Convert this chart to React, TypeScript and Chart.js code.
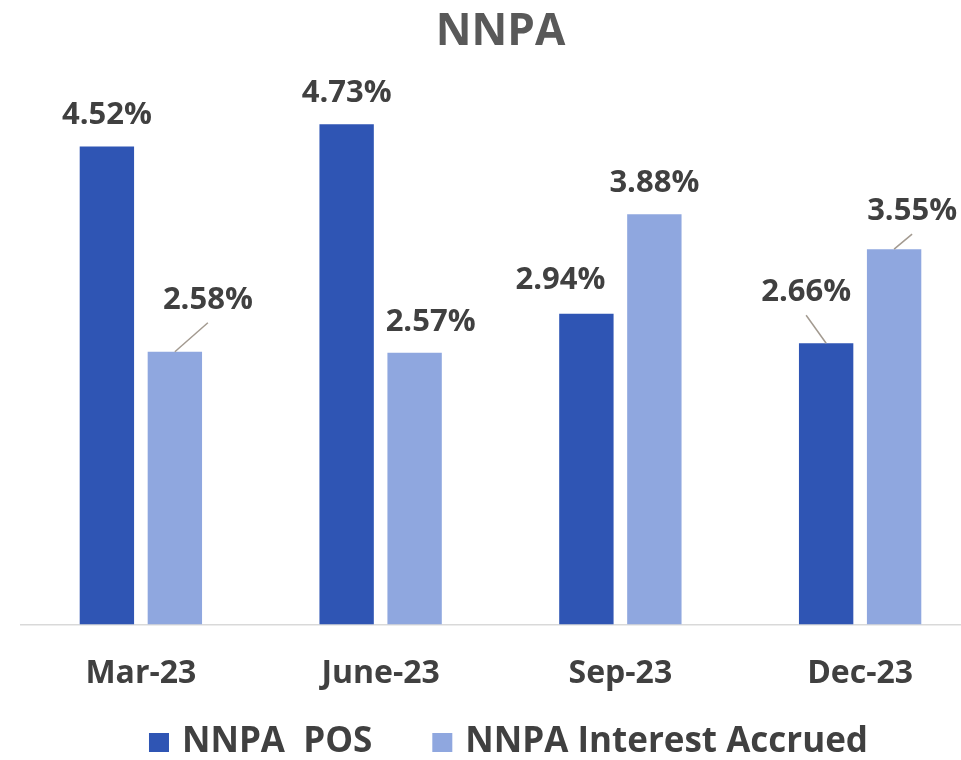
import React, { useEffect, useRef } from "react";
import { Chart, registerables } from "chart.js";

Chart.register(...registerables);

const TITLE = "NNPA";
const CATEGORIES = ["Mar-23", "June-23", "Sep-23", "Dec-23"];
const SERIES_NAMES = ["NNPA  POS", "NNPA Interest Accrued"];
const NNPA_POS = [4.52, 4.73, 2.94, 2.66];
const NNPA_INTEREST = [2.58, 2.57, 3.88, 3.55];

const COLORS = ["#2F55B4", "#8FA7DF"];
const FONT = "'Open Sans', 'Noto Sans', sans-serif";
const TEXT_DARK = "#404040";

// label nudges (pixels) per series / category, and whether a leader line is drawn
const LABEL_SHIFT: number[][][] = [
  [[0, 0], [0, 0], [-26, -2], [-20, -20]],
  [[33, -21], [16, 0], [0, 0], [18, -7]],
];
const LEADER: boolean[][] = [
  [false, false, false, true],
  [true, false, false, true],
];

const valueLabels = {
  id: "valueLabels",
  afterDatasetsDraw(chart: any) {
    const ctx = chart.ctx;
    ctx.save();
    ctx.font = `bold 31px ${FONT}`;
    ctx.textAlign = "center";
    ctx.textBaseline = "middle";
    chart.data.datasets.forEach((ds: any, di: number) => {
      const meta = chart.getDatasetMeta(di);
      meta.data.forEach((el: any, i: number) => {
        const { x, y } = el.getProps(["x", "y"], true);
        const [dx, dy] = LABEL_SHIFT[di][i];
        const lx = x + dx;
        const ly = y - 31 + dy;
        if (LEADER[di][i]) {
          ctx.beginPath();
          ctx.strokeStyle = "#A39A90";
          ctx.lineWidth = 1.5;
          ctx.moveTo(x, y);
          ctx.lineTo(lx, ly + 23);
          ctx.stroke();
        }
        ctx.fillStyle = TEXT_DARK;
        ctx.fillText(`${Number(ds.data[i]).toFixed(2)}%`, lx, ly);
      });
    });
    ctx.restore();
  },
};

const customLegend = {
  id: "customLegend",
  afterDraw(chart: any) {
    const ctx = chart.ctx;
    const area = chart.chartArea;
    ctx.save();
    ctx.font = `bold 35px ${FONT}`;
    ctx.textBaseline = "alphabetic";
    ctx.textAlign = "left";
    const box = 20;
    const gapText = 13;
    const gapItem = 60;
    const items = chart.data.datasets.map((ds: any) => ({
      label: ds.label as string,
      color: ds.backgroundColor as string,
      w: ctx.measureText(ds.label).width,
    }));
    const total =
      items.reduce((s: number, it: any) => s + box + gapText + it.w, 0) +
      gapItem * (items.length - 1);
    let x = (area.left + area.right) / 2 + 8 - total / 2;
    const baseY = chart.height - 8;
    items.forEach((it: any) => {
      ctx.fillStyle = it.color;
      ctx.fillRect(x, baseY - 19, box, 19);
      x += box + gapText;
      ctx.fillStyle = TEXT_DARK;
      ctx.fillText(it.label, x, baseY);
      x += it.w + gapItem;
    });
    ctx.restore();
  },
};

export default function App() {
  const ref = useRef<HTMLCanvasElement>(null);
  useEffect(() => {
    const chart = new Chart(ref.current as HTMLCanvasElement, {
      type: "bar",
      data: {
        labels: CATEGORIES,
        datasets: [
          {
            label: SERIES_NAMES[0],
            data: NNPA_POS,
            backgroundColor: COLORS[0],
            categoryPercentage: 0.567,
            barPercentage: 0.8,
          },
          {
            label: SERIES_NAMES[1],
            data: NNPA_INTEREST,
            backgroundColor: COLORS[1],
            categoryPercentage: 0.567,
            barPercentage: 0.8,
          },
        ],
      },
      options: {
        responsive: false,
        animation: false,
        devicePixelRatio: 1,
        layout: { padding: { left: 21, right: 20, top: 0, bottom: 37 } },
        plugins: {
          legend: { display: false },
          tooltip: { enabled: false },
          title: {
            display: true,
            text: TITLE,
            color: "#595959",
            font: { family: FONT, size: 44, weight: "bold" },
            padding: { top: 6, bottom: 37 },
          },
        },
        scales: {
          x: {
            grid: { display: false, drawTicks: false },
            border: { display: true, color: "#D9D9D9", width: 1.5 },
            ticks: {
              color: TEXT_DARK,
              font: { family: FONT, size: 32, weight: "bold" },
              padding: 30,
            },
          },
          y: { display: false, min: 0, max: 5 },
        },
      },
      plugins: [valueLabels, customLegend],
    });
    return () => chart.destroy();
  }, []);
  return (
    <div
      style={{
        position: "absolute",
        left: 0,
        top: 0,
        width: 961,
        height: 760,
        overflow: "hidden",
        background: "#ffffff",
      }}
    >
      <canvas
        ref={ref}
        width={1000}
        height={760}
        style={{ display: "block", width: 1000, height: 760 }}
      />
    </div>
  );
}
